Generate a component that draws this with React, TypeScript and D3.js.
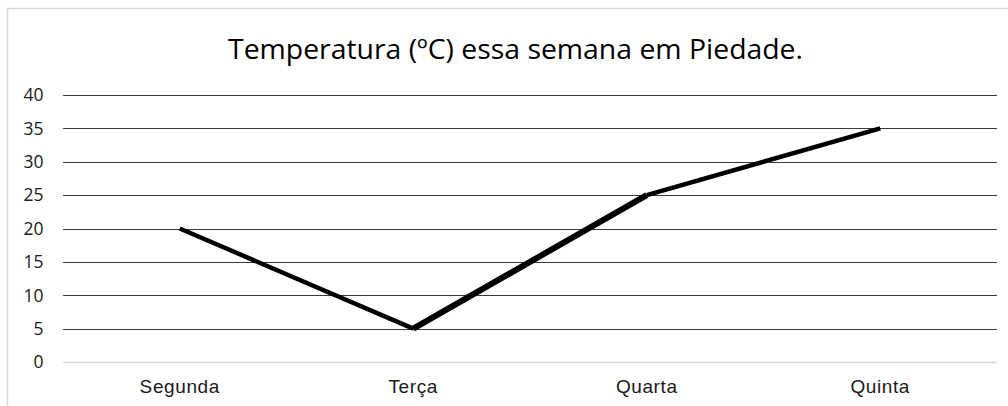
import React from "react";
import * as d3 from "d3";

const categories = ["Segunda", "Terça", "Quarta", "Quinta"];
const temperatures = [20, 5, 25, 35];
const yTicks = [0, 5, 10, 15, 20, 25, 30, 35, 40];
const title = "Temperatura (ºC) essa semana em Piedade.";
const segmentWidths = [4.5, 6, 4.5];

export default function App() {
  const W = 1008, H = 406;
  const left = 63, right = 997, top = 95, bottom = 362;
  const x = d3.scaleBand<string>().domain(categories).range([left, right]);
  const y = d3.scaleLinear().domain([0, 40]).range([bottom, top]);
  const pts = categories.map((c, i) => [x(c)! + x.bandwidth() / 2, y(temperatures[i])] as [number, number]);
  const segs = pts.slice(1).map((p, i) => d3.line()([pts[i], p])!);

  return (
    <svg width={W} height={H} style={{ position: "absolute", left: 0, top: 0, display: "block" }}>
      <rect x={0} y={0} width={W} height={H} fill="#fff" />
      <rect x={7.5} y={8.5} width={W + 10} height={H + 10} fill="#fff" stroke="#d9d9d9" strokeWidth={1.5} />
      <text x={515.5} y={59} textAnchor="middle" fontFamily="'Open Sans', sans-serif" fontSize={27} fill="#000"
        textLength={575} lengthAdjust="spacingAndGlyphs">{title}</text>
      {yTicks.map((t) => (
        <g key={t}>
          <line x1={left} x2={right} y1={Math.round(y(t)) + 0.5} y2={Math.round(y(t)) + 0.5}
            stroke={t === 0 ? "#d9d9d9" : "#3a3a3a"} strokeWidth={t === 0 ? 1.5 : 1.2} />
          <text x={43.5} y={y(t)} dy="0.36em" textAnchor="end" fontFamily="'Open Sans', sans-serif" fontSize={17.5} fill="#1a1a1a">{t}</text>
        </g>
      ))}
      {segs.map((d, i) => (
        <path key={i} d={d} fill="none" stroke="#000" strokeWidth={segmentWidths[i]} strokeLinecap="butt" strokeLinejoin="round" />
      ))}
      {categories.map((c) => (
        <text key={c} x={x(c)! + x.bandwidth() / 2} y={393} textAnchor="middle" fontFamily="'Liberation Sans', Arial, sans-serif" fontSize={19} letterSpacing={0.6} fill="#1a1a1a">{c}</text>
      ))}
    </svg>
  );
}
